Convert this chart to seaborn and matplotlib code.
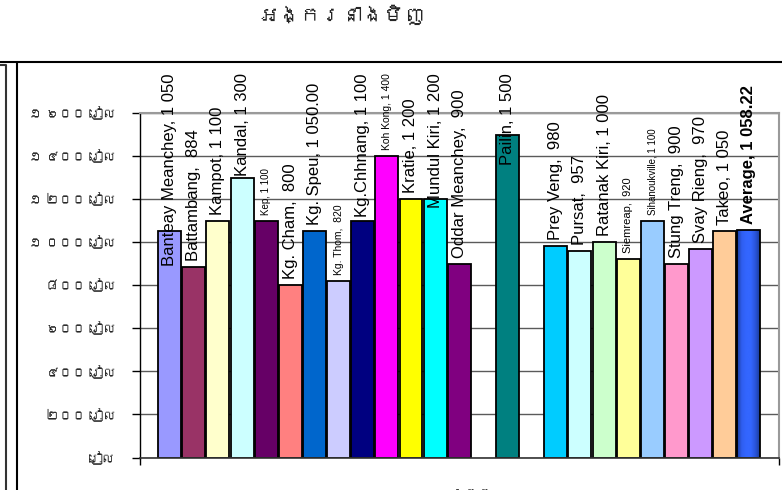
import numpy as np
import pandas as pd
import matplotlib.pyplot as plt
import seaborn as sns
from matplotlib import font_manager
from matplotlib.ft2font import FT2Font
from matplotlib.lines import Line2D
from matplotlib.colors import LinearSegmentedColormap


provinces = ["Banteay Meanchey", "Battambang", "Kampot", "Kandal", "Kep", "Kg. Cham",
             "Kg. Speu", "Kg. Thom", "Kg.Chhnang", "Koh Kong", "Kratie", "Mundul Kiri",
             "Oddar Meanchey", "Phnom Penh", "Pailin", "Preah Vihear", "Prey Veng", "Pursat",
             "Ratanak Kiri", "Siemreap", "Sihanoukville", "Stung Treng", "Svay Rieng", "Takeo",
             "Average"]
prices = [1050, 884, 1100, 1300, 1100, 800,
          1050, 820, 1100, 1400, 1200, 1200,
          900, np.nan, 1500, np.nan, 980, 957,
          1000, 920, 1100, 900, 970, 1050,
          1058.22]
decimals = [0, 0, 0, 0, 0, 0,
            2, 0, 0, 0, 0, 0,
            0, 0, 0, 0, 0, 0,
            0, 0, 0, 0, 0, 0,
            2]
bar_colors = ["#9999FF", "#993366", "#FFFFCC", "#CCFFFF", "#660066", "#FF8080",
              "#0066CC", "#CCCCFF", "#000080", "#FF00FF", "#FFFF00", "#00FFFF",
              "#800080", "#FFFFFF", "#008080", "#FFFFFF", "#00CCFF", "#CCFFFF",
              "#CCFFCC", "#FFFF99", "#99CCFF", "#FF99CC", "#CC99FF", "#FFCC99",
              "#3366FF"]
label_sizes = [12, 12, 12, 12, 7, 12,
               12, 7.5, 12, 7.5, 12, 12,
               12, 12, 12, 12, 12, 12,
               12, 8, 7, 12, 12, 12,
               12]
y_ticks = [0, 200, 400, 600, 800, 1000, 1200, 1400, 1600]
title = "អង្ករនាងមិញ"
x_title = "ខេត្ត"
currency = "រៀល"

khmer_digits = str.maketrans("0123456789", "០១២៣៤៥៦៧៨៩")


def riel(v):
    if v == 0:
        return currency
    s = f"{v:,.0f}".replace(",", " ")
    return s.translate(khmer_digits) + " " + currency


def value_text(v, d):
    s = f"{v:,.{d}f}".replace(",", " ")
    if v < 1000:
        s = " " + s
    return s


# look for a font that has Khmer glyphs
khmer_font = None
for f in font_manager.fontManager.ttflist:
    try:
        if 0x1780 in FT2Font(f.fname).get_charmap():
            khmer_font = f.name
            break
    except Exception:
        pass

sns.set_theme(style="white")
families = ["Liberation Sans", "DejaVu Sans"]
if khmer_font:
    families.insert(1, khmer_font)
plt.rcParams["font.family"] = families

fig = plt.figure(figsize=(7.82, 4.90), dpi=100)
W, H = 782, 490
ax = fig.add_axes([139.5 / W, 1 - 457.5 / H, (779 - 139.5) / W, (457.5 - 113) / H])

df = pd.DataFrame({"province": provinces, "price": prices})
palette = dict(zip(provinces, bar_colors))
sns.barplot(data=df, x="province", y="price", hue="province", order=provinces,
            hue_order=provinces, palette=palette, legend=False, width=0.95,
            saturation=1, edgecolor="black", linewidth=1.3, ax=ax, zorder=2)

# gradient fill on the Average bar
avg_idx = len(provinces) - 1
for p in ax.patches:
    if abs(p.get_x() + p.get_width() / 2 - avg_idx) < 0.01:
        x0, y0 = p.get_x(), p.get_y()
        x1, y1 = x0 + p.get_width(), y0 + p.get_height()
        cmap = LinearSegmentedColormap.from_list(
            "avg", ["#1a3c9c", "#2f5ef0", "#3366ff", "#3366ff", "#2a55dd", "#1a3c9c"])
        im = ax.imshow(np.linspace(0, 1, 64).reshape(1, -1), extent=[x0, x1, y0, y1],
                       aspect="auto", cmap=cmap, zorder=1.9)
        im.set_clip_path(p)
        p.set_facecolor("none")

n = len(provinces)
ax.set_xlim(-1.25, n - 1 + 1.25)
ax.set_ylim(0, 1600)
ax.set_xlabel("")
ax.set_ylabel("")

ax.set_yticks(y_ticks)
ax.set_yticklabels([riel(v) for v in y_ticks])
ax.set_xticks([-1.25, n - 1 + 1.25])
ax.set_xticklabels(["", ""])
ax.tick_params(axis="y", direction="out", length=6, width=1, color="black",
               labelsize=9.5, pad=11, left=True)
ax.tick_params(axis="x", direction="out", length=5, width=1, color="black", bottom=True)

ax.yaxis.grid(True, color="#5a5a5a", linewidth=1)
ax.set_axisbelow(True)
for side in ["top", "right"]:
    ax.spines[side].set_color("#9a9a9a")
    ax.spines[side].set_linewidth(1.5)
ax.spines["left"].set_color("black")
ax.spines["left"].set_linewidth(1)
ax.spines["bottom"].set_color("#333333")
ax.spines["bottom"].set_linewidth(1.2)

# data labels, rotated, above the bars
texts = []
for i, (name, v, d, fs) in enumerate(zip(provinces, prices, decimals, label_sizes)):
    if np.isnan(v):
        continue
    t = ax.text(i, v, f"{name}, {value_text(v, d)}", rotation=90, ha="center",
                va="bottom", fontsize=fs, color="black",
                fontweight="bold" if name == "Average" else "normal", zorder=5)
    texts.append((t, i, v))

fig.canvas.draw()
renderer = fig.canvas.get_renderer()
top_limit = H - 73
for t, i, v in texts:
    bx, by = ax.transData.transform((i, v))
    bottom = by + 6
    bb = t.get_window_extent(renderer)
    if bottom + bb.height > top_limit:
        bottom = top_limit - bb.height
    t.set_y(ax.transData.inverted().transform((bx, bottom))[1])

fig.text(342 / W, 1 - 16 / H, title, ha="center", va="center", fontsize=15,
         fontweight="bold")
fig.text(472 / W, 1 - 487 / H, x_title, ha="center", va="top", fontsize=10)

# chart area borders
fig.add_artist(Line2D([0, 1], [1 - 62 / H] * 2, transform=fig.transFigure,
                      color="black", linewidth=1.5))
fig.add_artist(Line2D([16.5 / W] * 2, [0, 1 - 62 / H], transform=fig.transFigure,
                      color="black", linewidth=1.5))
fig.add_artist(Line2D([0, 5.5 / W, 5.5 / W], [1 - 65 / H, 1 - 65 / H, 0],
                      transform=fig.transFigure, color="#333333", linewidth=1.5))

fig.savefig("out.png", dpi=100)
